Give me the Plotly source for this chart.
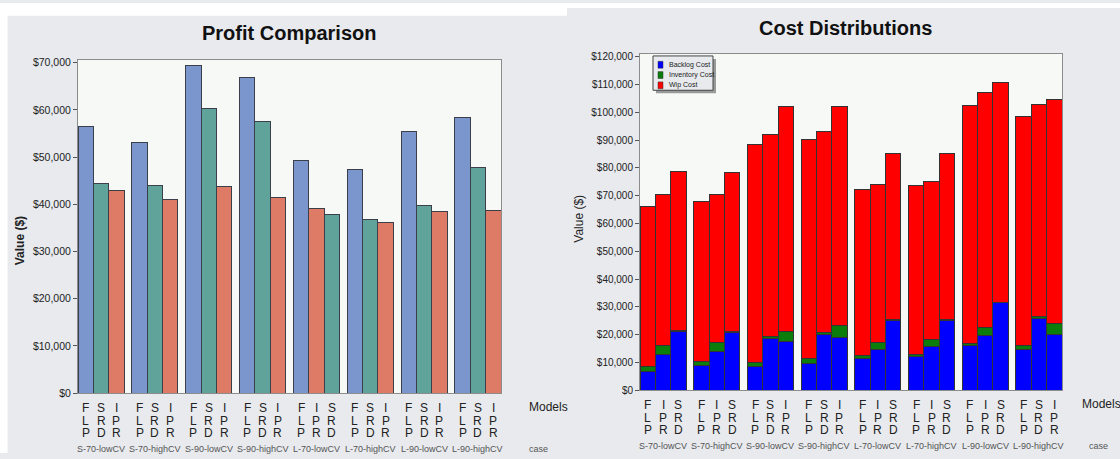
import plotly.graph_objects as go

W, H = 1120, 459
FONT = "Liberation Sans, Arial, sans-serif"

# ---------------- data ----------------
cases = ["S-70-lowCV", "S-70-highCV", "S-90-lowCV", "S-90-highCV",
         "L-70-lowCV", "L-70-highCV", "L-90-lowCV", "L-90-highCV"]

# Profit comparison (bar order inside each case as drawn)
profit_order = [["FLP", "SRD", "IPR"], ["FLP", "SRD", "IPR"], ["FLP", "SRD", "IPR"],
                ["FLP", "SRD", "IPR"], ["FLP", "IPR", "SRD"], ["FLP", "SRD", "IPR"],
                ["FLP", "SRD", "IPR"], ["FLP", "SRD", "IPR"]]
profit_FLP = [56400, 53200, 69500, 66800, 49300, 47300, 55500, 58400]
profit_SRD = [44400, 44000, 60400, 57500, 37800, 36800, 39700, 47700]
profit_IPR = [42900, 41000, 43800, 41400, 39200, 36100, 38400, 38800]

# Cost distributions (bar order inside each case as drawn)
cost_order = [["FLP", "IPR", "SRD"], ["FLP", "IPR", "SRD"], ["FLP", "SRD", "IPR"],
              ["FLP", "SRD", "IPR"], ["FLP", "IPR", "SRD"], ["FLP", "IPR", "SRD"],
              ["FLP", "IPR", "SRD"], ["FLP", "SRD", "IPR"]]
backlog_cost = [6800, 12800, 21300,  8800, 13800, 20900,  8600, 18600, 17400,
                9600, 20200, 19100, 11500, 14700, 25200, 12000, 15900, 25200,
                16000, 19800, 31500, 14500, 25800, 20200]
inventory_cost = [1800, 3300, 200,  1600, 3400, 400,  1500, 800, 3700,
                  1800, 700, 4100,  900, 2600, 200,  900, 2300, 200,
                  900, 2700, 200,  1600, 900, 3700]
wip_cost = [57700, 54300, 57300, 57500, 53400, 57100, 78400, 72700, 81000,
            78700, 72200, 78800, 60000, 56900, 59800, 60800, 57000, 59800,
            85500, 84700, 79200, 82400, 76100, 80700]
cost_names = ["Backlog Cost", "Inventory Cost", "Wip Cost"]
cost_colors = ["#0000ff", "#0a7d0a", "#ff0000"]

profit_values = {"FLP": profit_FLP, "SRD": profit_SRD, "IPR": profit_IPR}
profit_colors = {"FLP": "#7b96cc", "SRD": "#5fa39b", "IPR": "#de7b66"}

GROUP_STEP = 3.5
def pos(g, j):
    return g * GROUP_STEP + j

fig = go.Figure()

# ---------------- left: profit bars ----------------
for m in ["FLP", "SRD", "IPR"]:
    xs, ys = [], []
    for g, order in enumerate(profit_order):
        xs.append(pos(g, order.index(m)))
        ys.append(profit_values[m][g])
    fig.add_trace(go.Bar(x=xs, y=ys, name=m, width=1, xaxis="x", yaxis="y",
                         marker=dict(color=profit_colors[m], line=dict(color="#3a3f4a", width=1)),
                         showlegend=False))

# ---------------- right: cost bars ----------------
cost_x = [pos(g, j) for g in range(len(cases)) for j in range(3)]
for name, vals, col in zip(cost_names, [backlog_cost, inventory_cost, wip_cost], cost_colors):
    fig.add_trace(go.Bar(x=cost_x, y=vals, name=name, width=1, xaxis="x2", yaxis="y2",
                         marker=dict(color=col, line=dict(color="#333333", width=1)),
                         showlegend=False))

def py(px):
    return 1 - px / H

def px_x(px):
    return px / W

xr = [-0.5, (len(cases) - 1) * GROUP_STEP + 2.5]

axis_common = dict(showgrid=False, zeroline=False, showline=True, mirror=True,
                   linecolor="#8c8c8c", linewidth=1)

fig.update_layout(
    width=W, height=H,
    margin=dict(l=0, r=0, t=0, b=0),
    paper_bgcolor="#e8eaee",
    plot_bgcolor="#f6f9f6",
    barmode="stack",
    font=dict(family=FONT, color="#222222"),
    xaxis=dict(domain=[px_x(78), px_x(501)], range=xr, showticklabels=False, ticks="",
               anchor="y", **axis_common),
    yaxis=dict(domain=[py(398), py(58)], range=[0, 70600], dtick=10000, tickprefix="$",
               tickformat=",", ticks="outside", ticklen=4, tickcolor="#555555",
               tickfont=dict(size=10.5, color="#222222"), anchor="x", **axis_common),
    xaxis2=dict(domain=[px_x(640), px_x(1062)], range=xr, showticklabels=False, ticks="",
                anchor="y2", **axis_common),
    yaxis2=dict(domain=[py(395), py(52)], range=[0, 121000], dtick=10000, tickprefix="$",
                tickformat=",", ticks="outside", ticklen=4, tickcolor="#555555",
                tickfont=dict(size=10, color="#222222"), anchor="x2", **axis_common),
    showlegend=False,
)

shapes = []
# white page strips around the two panels
shapes.append(dict(type="rect", xref="paper", yref="paper", x0=0, x1=px_x(7.5), y0=0, y1=1,
                   fillcolor="white", line_width=0, layer="below"))
shapes.append(dict(type="rect", xref="paper", yref="paper", x0=0, x1=px_x(567), y0=py(13), y1=1,
                   fillcolor="white", line_width=0, layer="below"))
shapes.append(dict(type="rect", xref="paper", yref="paper", x0=px_x(567), x1=1, y0=py(5), y1=1,
                   fillcolor="white", line_width=0, layer="below"))

ann = []
# legend box for the cost chart (compact, like the original)
LX0, LY0, LX1, LY1 = 653, 54, 713, 89
shapes.append(dict(type="rect", xref="paper", yref="paper", x0=px_x(LX0 + 3), x1=px_x(LX1 + 3),
                   y0=py(LY1 + 3), y1=py(LY0 + 3), fillcolor="#9a9a9a", line_width=0, layer="above"))
shapes.append(dict(type="rect", xref="paper", yref="paper", x0=px_x(LX0), x1=px_x(LX1),
                   y0=py(LY1), y1=py(LY0), fillcolor="#e8eaee",
                   line=dict(color="#444444", width=1), layer="above"))
for i, (name, col) in enumerate(zip(cost_names, cost_colors)):
    cy = LY0 + 9 + i * 10.5
    shapes.append(dict(type="rect", xref="paper", yref="paper", x0=px_x(LX0 + 5), x1=px_x(LX0 + 10),
                       y0=py(cy + 3.5), y1=py(cy - 3.5), fillcolor=col,
                       line=dict(color="#333333", width=0.5), layer="above"))
    ann.append(dict(text=name, x=px_x(LX0 + 14), y=py(cy), xref="paper", yref="paper",
                    showarrow=False, xanchor="left", yanchor="middle",
                    font=dict(size=7, color="#222222")))

# titles
ann.append(dict(text="<b>Profit Comparison</b>", x=px_x(289), y=py(31), xref="paper", yref="paper",
                showarrow=False, font=dict(size=20, color="#111111"), xanchor="center", yanchor="middle"))
ann.append(dict(text="<b>Cost Distributions</b>", x=px_x(845), y=py(25), xref="paper", yref="paper",
                showarrow=False, font=dict(size=20, color="#111111"), xanchor="center", yanchor="middle"))
# y titles
ann.append(dict(text="<b>Value ($)</b>", x=px_x(20), y=py(243), xref="paper", yref="paper",
                showarrow=False, textangle=-90, xanchor="center", yanchor="middle",
                font=dict(size=12, color="#222222")))
ann.append(dict(text="Value ($)", x=px_x(579), y=py(220), xref="paper", yref="paper",
                showarrow=False, textangle=-90, xanchor="center", yanchor="middle",
                font=dict(size=12, color="#222222")))

# model letters + case labels
def add_labels(orders, xref, rows_px, case_px, models_x, models_y, case_x):
    for g, order in enumerate(orders):
        for j, m in enumerate(order):
            for r, ch in enumerate(m):
                ann.append(dict(text=ch, x=pos(g, j), y=py(rows_px[r]), xref=xref, yref="paper",
                                showarrow=False, xanchor="center", yanchor="middle",
                                font=dict(size=12, color="#222222")))
        ann.append(dict(text=cases[g], x=pos(g, 1), y=py(case_px), xref=xref, yref="paper",
                        showarrow=False, xanchor="center", yanchor="middle",
                        font=dict(size=9, color="#555555")))
    ann.append(dict(text="Models", x=px_x(models_x), y=py(models_y), xref="paper", yref="paper",
                    showarrow=False, xanchor="left", yanchor="middle",
                    font=dict(size=12, color="#222222")))
    ann.append(dict(text="case", x=px_x(case_x), y=py(case_px), xref="paper", yref="paper",
                    showarrow=False, xanchor="left", yanchor="middle",
                    font=dict(size=9, color="#555555")))

add_labels(profit_order, "x", [413, 426, 439], 455, 527, 412, 527)
add_labels(cost_order, "x2", [410, 423, 436], 452, 1080, 409, 1087)

fig.update_layout(annotations=ann, shapes=shapes)

fig.write_html("out.html")
